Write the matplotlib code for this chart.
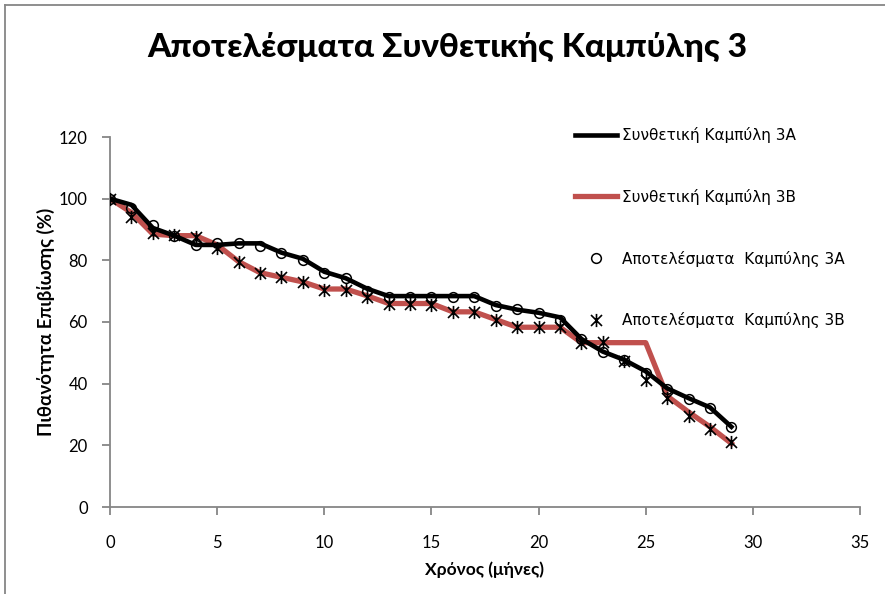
import numpy as np
import matplotlib.pyplot as plt
from matplotlib.path import Path
from matplotlib.lines import Line2D

# Μήνες παρακολούθησης
months = list(range(30))

# Συνθετικές καμπύλες (γραμμές)
synth_a = [100, 98, 90.5, 88, 85, 85, 85.5, 85.5, 82.5, 80.5,
           76.3, 74.2, 70.8, 68.4, 68.4, 68.4, 68.4, 68.4, 65.5, 64,
           63, 61.5, 54.5, 50.4, 47.7, 44, 38.5, 35.3, 32.3, 26]
synth_b = [100, 95.5, 88.5, 88, 88, 85, 79.6, 76, 74.5, 73,
           70.7, 70.7, 68.5, 66, 66, 66, 63.3, 63.3, 60.8, 58.3,
           58.3, 58.3, 53.3, 53.3, 53.3, 53.3, 36, 30.8, 26, 20.6]

# Αποτελέσματα (σημεία)
res_a = [100, 97, 91.5, 88, 85, 85.5, 85.5, 84.8, 82.3, 80,
         75.8, 74.2, 70.2, 68.2, 68.2, 68.2, 68.2, 68.2, 65.2, 64.1,
         63, 60.5, 54.5, 50.4, 47.6, 43.4, 38.2, 35.1, 32, 25.8]
res_b = [100, 94, 88.8, 88.2, 87.7, 84, 79.5, 75.8, 74.5, 73,
         70.5, 70.5, 68, 66, 66, 65.5, 63.3, 63.3, 60.8, 58.3,
         58.3, 58.3, 53.2, 53.5, 47.2, 41.2, 35.3, 29.5, 25.4, 21]

x_ticks = [0, 5, 10, 15, 20, 25, 30, 35]
y_ticks = [0, 20, 40, 60, 80, 100, 120]

red = '#C0504D'
grey = '#868686'

# αστερίσκος: Χ με κάθετη γραμμή
star = Path([(-1, -1), (1, 1), (-1, 1), (1, -1), (0, -1.2), (0, 1.2)],
            [Path.MOVETO, Path.LINETO, Path.MOVETO, Path.LINETO, Path.MOVETO, Path.LINETO])

fig = plt.figure(figsize=(8.85, 5.94), dpi=100)
ax = fig.add_axes([110 / 885, 1 - 507 / 594, 750 / 885, 370 / 594])

ax.plot(months, synth_a, color='black', lw=3.3, label='Συνθετική Καμπύλη 3A', zorder=3)
ax.plot(months, synth_b, color=red, lw=3.8, label='Συνθετική Καμπύλη 3B', zorder=2)
ax.plot(months, res_a, ls='none', marker='o', ms=7, mfc='none', mec='black', mew=1.1,
        label='Αποτελέσματα  Καμπύλης 3A', zorder=4)
ax.plot(months, res_b, ls='none', marker=star, ms=9.5, mfc='none', mec='black', mew=1.2,
        label='Αποτελέσματα  Καμπύλης 3B', zorder=4)

ax.set_xlim(0, 35)
ax.set_ylim(0, 120)
ax.set_xticks(x_ticks)
ax.set_yticks(y_ticks)

for s in ['top', 'right']:
    ax.spines[s].set_visible(False)
for s in ['left', 'bottom']:
    ax.spines[s].set_color(grey)
    ax.spines[s].set_linewidth(1.3)
ax.tick_params(direction='out', length=6, width=1.3, color=grey,
               labelsize=12, labelcolor='black')
ax.tick_params(axis='x', pad=14)
ax.tick_params(axis='y', pad=10)
for lab in ax.get_xticklabels() + ax.get_yticklabels():
    lab.set_family('Lato')

ax.set_xlabel('Χρόνος (μήνες)', family='Lato', fontweight='bold', fontsize=12.5, labelpad=8)
ax.set_ylabel('Πιθανότητα Επιβίωσης (%)', family='Lato', fontweight='bold', fontsize=13.5,
              labelpad=3)

fig.text(447 / 885, 1 - 47 / 594, 'Αποτελέσματα Συνθετικής Καμπύλης 3',
         family='Lato', fontweight='black', fontsize=24, ha='center', va='center')

ax.legend(loc='upper left', bbox_to_anchor=(575 / 885, 1 - 127 / 594),
          bbox_transform=fig.transFigure, frameon=False, fontsize=11,
          handlelength=2.75, handletextpad=0.3, labelspacing=3.0, borderpad=0,
          borderaxespad=0)

# περίγραμμα γραφήματος (αριστερά και πάνω)
fig.add_artist(Line2D([4.5 / 885, 4.5 / 885], [0, 1 - 4.5 / 594], color=grey, lw=1.3,
                      transform=fig.transFigure))
fig.add_artist(Line2D([4.5 / 885, 1], [1 - 4.5 / 594, 1 - 4.5 / 594], color=grey, lw=1.3,
                      transform=fig.transFigure))

fig.savefig('out.png', dpi=100)
